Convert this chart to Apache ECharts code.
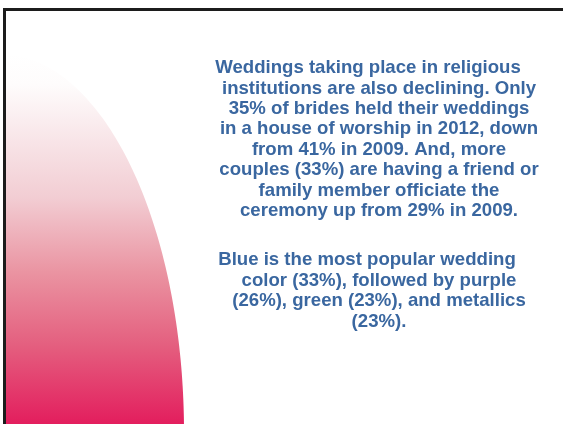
<!DOCTYPE html>
<html>
<head>
<meta charset="utf-8">
<script src="https://cdn.jsdelivr.net/npm/echarts@6/dist/echarts.min.js"></script>
<style>
  html, body { margin: 0; padding: 0; background: #fff; }
  #chart { width: 563px; height: 424px; }
</style>
</head>
<body>
<div id="chart"></div>
<script>
// slide text, one entry per line as it wraps on the slide
var para1 = [
    'Weddings taking place in religious',
    'institutions are also declining. Only',
    '35% of brides held their weddings',
    'in a house of worship in 2012, down',
    'from 41% in 2009. And, more',
    'couples (33%) are having a friend or',
    'family member officiate the',
    'ceremony up from 29% in 2009.'
];
var para2 = [
    'Blue is the most popular wedding',
    'color (33%), followed by purple',
    '(26%), green (23%), and metallics',
    '(23%).'
];

var textColor = '#3a67a0';
var textFont = 'bold 18.6px "Liberation Sans", Arial, sans-serif';

var myChart = echarts.init(document.getElementById('chart'));

// pink curved shape on the left (quarter of an ellipse)
var ex = 0, ey = 432, rx = 184, ry = 378;
var pts = [];
for (var i = 0; i <= 90; i++) {
    var a = Math.PI / 2 * i / 90;          // 0 = right, 90 = top
    var px = ex + rx * Math.cos(a);
    var py = ey - ry * Math.sin(a);
    if (px < 5) px = 5;
    pts.push([px, py]);
}
pts.unshift([rx, 424]);
pts.push([5, 424]);

var graphics = [];
graphics.push({
    type: 'polygon',
    shape: { points: pts },
    style: {
        fill: new echarts.graphic.LinearGradient(0, 0, 0, 1, [
            { offset: 0, color: '#ffffff' },
            { offset: 0.08, color: '#fefcfc' },
            { offset: 0.38, color: '#f2cdd3' },
            { offset: 0.58, color: '#ea93a1' },
            { offset: 0.77, color: '#e45f7f' },
            { offset: 1, color: '#e3175a' }
        ])
    },
    z: 1
});

// slide frame (left and top edges)
graphics.push({
    type: 'line',
    shape: { x1: 4.5, y1: 9.5, x2: 4.5, y2: 424 },
    style: { stroke: '#1c1c1c', lineWidth: 3 },
    z: 3
});
graphics.push({
    type: 'line',
    shape: { x1: 3, y1: 9.5, x2: 563, y2: 9.5 },
    style: { stroke: '#1c1c1c', lineWidth: 3 },
    z: 3
});

function addLines(lines, top, step, firstX, restX) {
    lines.forEach(function (t, k) {
        graphics.push({
            type: 'text',
            x: k === 0 ? firstX : restX,
            y: top + k * step,
            style: {
                text: t,
                font: textFont,
                fill: textColor,
                align: 'center',
                verticalAlign: 'middle'
            },
            z: 5
        });
    });
}
addLines(para1, 68, 20.4, 368, 379);
addLines(para2, 260, 20.6, 367, 379);

var option = {
    backgroundColor: '#ffffff',
    animation: false,
    graphic: graphics
};

myChart.setOption(option);
</script>
</body>
</html>
